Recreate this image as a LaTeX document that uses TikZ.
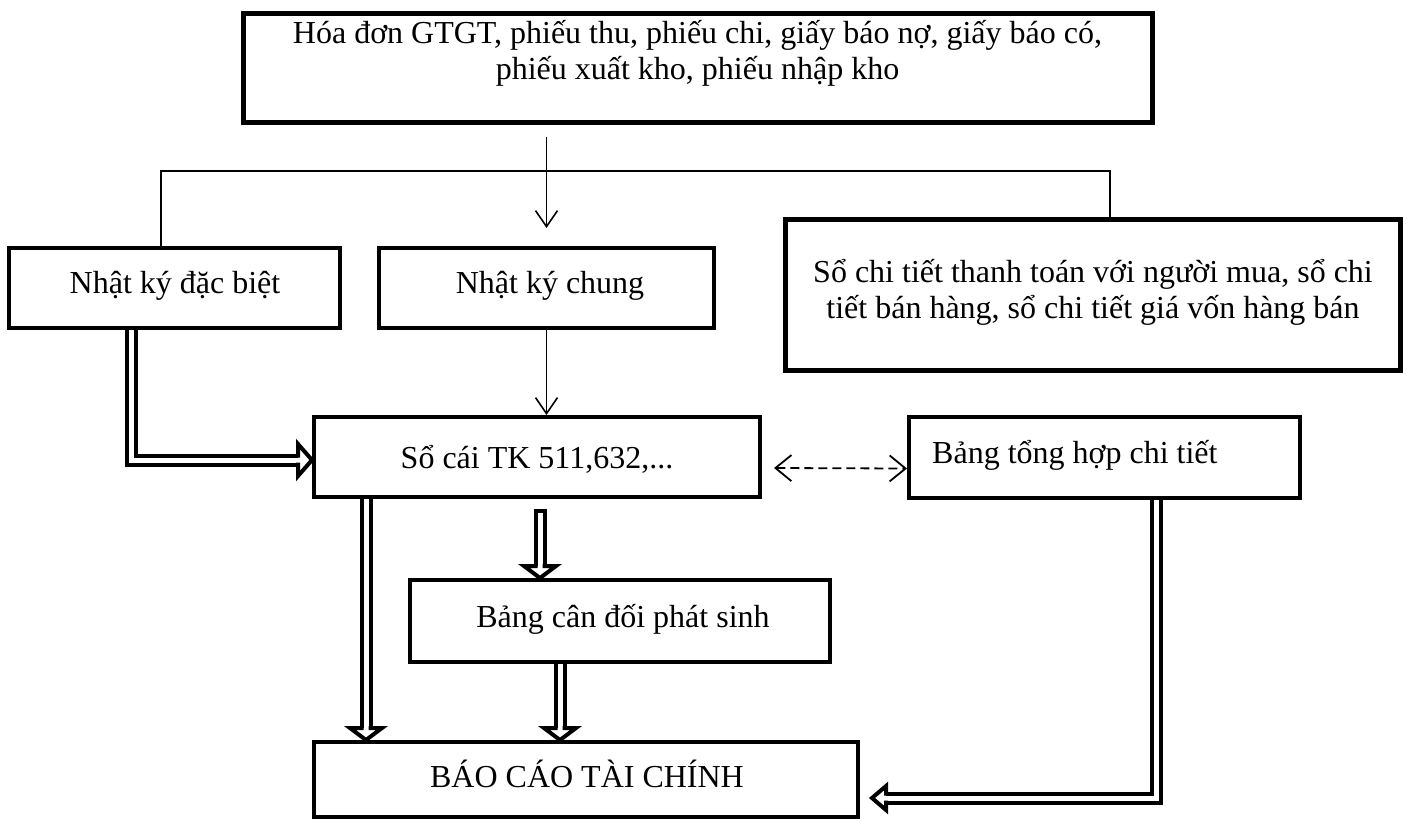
\documentclass[tikz,border=0pt]{standalone}
\usepackage{fontspec}
\setmainfont{Liberation Serif}
\usetikzlibrary{arrows.meta,calc}
\tikzset{
  box/.style={draw, line width=4pt, rectangle, inner sep=0pt},
  thickbox/.style={box, line width=5pt},
  lbl/.style={font=\fontsize{32}{36}\selectfont, inner sep=0pt, anchor=base},
  conn/.style={line width=1.6pt, -{Straight Barb[length=16pt,width=22pt]}},
  thinline/.style={line width=1.6pt},
  dbl/.style={line width=4pt, double=white, double distance=5pt, line join=miter},
  dashedarrow/.style={line width=1.8pt, dash pattern=on 9pt off 5pt,
    {Straight Barb[length=16pt,width=26pt]}-{Straight Barb[length=16pt,width=26pt]}},
}
% #1 tip coordinate, #2 rotation, #3 length, #4 half width
\newcommand\dblhead[4]{%
  \begin{scope}[shift={#1}, rotate=#2]
    \fill[white] (-#3,#4) -- (0,0) -- (-#3,-#4) -- cycle;
    \draw[line width=4pt, line join=miter, miter limit=20]
      (-#3,2.5) -- (-#3,#4) -- (0,0) -- (-#3,-#4) -- (-#3,-2.5);
  \end{scope}}
\begin{document}
\begin{tikzpicture}[x=1pt,y=-1pt]
\useasboundingbox (0,0) rectangle (1407,820);
% boxes
\node[thickbox, minimum width=909pt, minimum height=109pt] (src) at (697.5,67.5) {};
\node[lbl] (src1) at (697.5,43) {Hóa đơn GTGT, phiếu thu, phiếu chi, giấy báo nợ, giấy báo có,};
\node[lbl] (src2) at (697.5,79) {phiếu xuất kho, phiếu nhập kho};
\node[box, minimum width=331pt, minimum height=80pt] (nkdb) at (174.5,288) {};
\node[lbl] (nkdbt) at (175,293) {Nhật ký đặc biệt};
\node[box, minimum width=335pt, minimum height=80pt] (nkc) at (546.5,288) {};
\node[lbl] (nkct) at (550,293) {Nhật ký chung};
\node[thickbox, minimum width=615pt, minimum height=151pt] (sct) at (1092.5,294.5) {};
\node[lbl] (sct1) at (1093,282) {Sổ chi tiết thanh toán với người mua, sổ chi};
\node[lbl] (sct2) at (1093,318) {tiết bán hàng, sổ chi tiết giá vốn hàng bán};
\node[box, minimum width=446pt, minimum height=80pt] (soc) at (537,457) {};
\node[lbl] (soct) at (537,468) {Sổ cái TK 511,632,...};
\node[box, minimum width=391pt, minimum height=81pt] (bth) at (1104.5,457.5) {};
\node[lbl, anchor=base west] (btht) at (932,463) {Bảng tổng hợp chi tiết};
\node[box, minimum width=420pt, minimum height=82pt] (bcd) at (620,621) {};
\node[lbl] (bcdt) at (623,627) {Bảng cân đối phát sinh};
\node[box, minimum width=544pt, minimum height=75pt] (bctc) at (586,779.5) {};
\node[lbl] (bctct) at (587,787) {BÁO CÁO TÀI CHÍNH};
% thin connectors
\draw[conn] ($(src.south -| nkc.north)+(0,12)$) -- ($(nkc.north)+(0,-18)$);
\coordinate (barL) at (161,171);
\coordinate (barR) at (1110,171);
\draw[thinline] (nkdb.north -| barL) -- (barL) -- (barR) -- (sct.north -| barR);
\draw[conn] (nkc.south) -- (soc.north -| nkc.south);
\draw[dashedarrow] ($(soc.east)+(12,11)$) -- ($(bth.west)+(0,11)$);
% double arrows
\coordinate (k1) at (131,460);
\draw[dbl] (nkdb.south -| k1) -- (k1) -- ($(soc.west |- k1)+(-14,0)$);
\dblhead{(soc.west |- k1)}{0}{14}{16}
\coordinate (x2) at (366,0);
\draw[dbl] (soc.south -| x2) -- ($(bctc.north -| x2)+(0,-12)$);
\dblhead{(bctc.north -| x2)}{-90}{12}{16}
\coordinate (x3) at (540,0);
\draw[dbl] ($(soc.south -| x3)+(0,12)$) -- ($(bcd.north -| x3)+(0,-12)$);
\draw[line width=4pt] ($(soc.south -| x3)+(-6.5,12)$) -- ++(13,0);
\dblhead{(bcd.north -| x3)}{-90}{12}{16}
\coordinate (x4) at (560,0);
\draw[dbl] (bcd.south -| x4) -- ($(bctc.north -| x4)+(0,-12)$);
\dblhead{(bctc.north -| x4)}{-90}{12}{16}
\coordinate (k5) at (1156,798);
\draw[dbl] (bth.south -| k5) -- (k5) -- ($(bctc.east |- k5)+(26,0)$);
\dblhead{($(bctc.east |- k5)+(12,0)$)}{180}{14}{12}
\end{tikzpicture}
\end{document}
